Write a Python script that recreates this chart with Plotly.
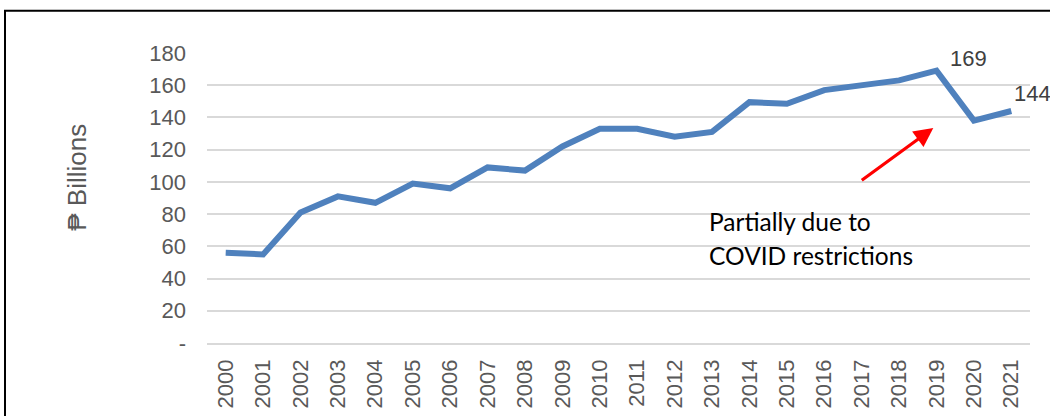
import plotly.graph_objects as go

years = [str(y) for y in range(2000, 2022)]
gva = [56, 55, 81, 91, 87, 99, 96, 109, 107, 122, 133, 133, 128, 131,
       149.5, 148.5, 157, 160, 163, 169, 138, 144]
labelled_years = ["2019", "2021"]
y_ticks = [0, 20, 40, 60, 80, 100, 120, 140, 160, 180]
y_ticktext = ["-"] + [str(v) for v in y_ticks[1:]]
y_title = "₱ Billions"
note_lines = ["Partially due to", "COVID restrictions"]

# page geometry (body margin removed via post_script)
OFF = 0
W, H = 1050, 416
PL, PR, PT, PB = 207, 1030, 53.3, 343.3   # plot area in page pixels
ml, mt = PL - OFF, PT - OFF
mr, mb = W - (PR - OFF), H - (PB - OFF)

def px2paper(px, py):
    return (px - PL) / (PR - PL), (PB - py) / (PB - PT)

fig = go.Figure()
fig.add_trace(go.Scatter(
    x=years, y=gva, mode="lines",
    line=dict(color="#4F81BD", width=6),
    showlegend=False, hoverinfo="x+y",
))

fig.update_layout(
    width=W, height=H,
    margin=dict(l=ml, r=mr, t=mt, b=mb, autoexpand=False),
    paper_bgcolor="white", plot_bgcolor="white",
    font=dict(family="Liberation Sans, Arial, sans-serif", size=22, color="#595959"),
    xaxis=dict(
        type="category", categoryorder="array", categoryarray=years,
        range=[-0.5, len(years) - 0.5],
        tickangle=-90, showgrid=False, automargin=False,
        showline=True, linecolor="#D9D9D9", linewidth=1.5,
        ticks="", ticklabelstandoff=6,
        tickfont=dict(size=22, color="#595959"),
    ),
    yaxis=dict(
        range=[0, 180], tickvals=y_ticks, ticktext=y_ticktext, automargin=False,
        showgrid=True, gridcolor="#D9D9D9", gridwidth=1.5,
        zeroline=False, showline=False, ticks="",
        ticklabelstandoff=20,
        tickfont=dict(size=22, color="#595959"),
    ),
)

# data labels
label_shift = {"2019": (12, -2), "2021": (1, 3)}
for yr in labelled_years:
    i = years.index(yr)
    v = gva[i]
    dx, dy = label_shift[yr]
    fig.add_annotation(x=i, y=v, text=f"{v:.0f}", showarrow=False,
                       xanchor="left", yanchor="bottom", xshift=dx, yshift=dy,
                       font=dict(family="Liberation Sans, Arial, sans-serif", size=22, color="#404040"))

# y-axis title
tx_, ty_ = px2paper(77, 178)
fig.add_annotation(xref="paper", yref="paper", x=tx_, y=ty_, text=y_title,
                   textangle=-90, showarrow=False, xanchor="center", yanchor="middle",
                   font=dict(family="Liberation Sans, Arial, sans-serif", size=26, color="#595959"))

# outer frame (left and top edges visible)
x0, y1 = px2paper(5, 11)
fig.add_shape(type="rect", xref="paper", yref="paper",
              x0=x0, x1=1.2, y0=-0.5, y1=y1,
              line=dict(color="black", width=2), fillcolor="rgba(0,0,0,0)", layer="above")

# note text
for line, py in zip(note_lines, [222, 256]):
    nx, ny = px2paper(707, py)
    fig.add_annotation(xref="paper", yref="paper", x=nx, y=ny, text=line,
                       showarrow=False, xanchor="left", yanchor="middle",
                       font=dict(family="Lato, Carlito, sans-serif", size=24.5, color="black"))

# red arrow
ax_, ay_ = px2paper(933.3, 128.3)
fig.add_annotation(xref="paper", yref="paper", x=ax_, y=ay_, text="",
                   showarrow=True, ax=-73, ay=53.4, arrowcolor="#FF0000",
                   arrowwidth=3.2, arrowhead=2, arrowsize=1.2, standoff=0)

fig.write_html("out.html",
               config={"displayModeBar": False},
               post_script="document.body.style.margin='0';document.body.style.overflow='hidden';")
